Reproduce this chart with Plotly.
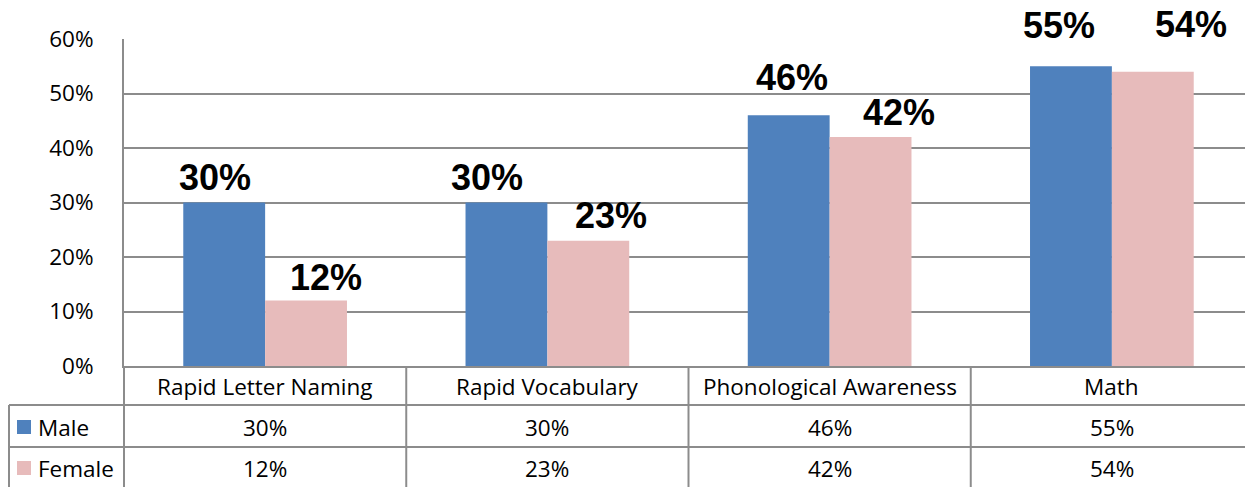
import plotly.graph_objects as go

categories = ["Rapid Letter Naming", "Rapid Vocabulary", "Phonological Awareness", "Math"]
male = [0.30, 0.30, 0.46, 0.55]
female = [0.12, 0.23, 0.42, 0.54]
series_names = ["Male", "Female"]
y_ticks = [0, 0.1, 0.2, 0.3, 0.4, 0.5, 0.6]

# label placement (style): horizontal offset from category centre, height above bar top (px)
male_lbl_dx = [-50, -60, -38, -53]
male_lbl_dy = [25, 25, 38, 41]
female_lbl_dx = [61, 64, 69, 79]
female_lbl_dy = [23, 25, 25, 47]

# page places the figure 8px from the top-left corner; size the figure to the visible area
OFF = 8
W, H = 1253 - OFF, 487 - OFF
BLUE = "#4F81BD"
PINK = "#E7BBBB"
GRID = "#8C8C8C"
TXT_FONT = "Open Sans"
TS = 22.5

def px(x):
    return (x - OFF) / W

def py(y):
    return 1 - (y - OFF) / H

xs = list(range(len(categories)))
fig = go.Figure()
for name, vals, col in [(series_names[0], male, BLUE), (series_names[1], female, PINK)]:
    fig.add_trace(go.Bar(
        x=xs, y=vals, name=name, marker=dict(color=col, line=dict(width=0)),
        showlegend=False, hoverinfo="name+y",
    ))

fig.update_layout(
    width=W, height=H, autosize=False,
    margin=dict(l=0, r=0, t=0, b=0, autoexpand=False),
    paper_bgcolor="white", plot_bgcolor="white",
    barmode="group", bargap=0.42, bargroupgap=0,
    xaxis=dict(domain=[px(124), 1], range=[-0.5, len(categories) - 0.5],
               showticklabels=False, showgrid=False, zeroline=False, automargin=False,
               showline=True, linecolor=GRID, linewidth=2, fixedrange=True),
    yaxis=dict(domain=[py(366), py(39)], range=[0, 0.6], tickvals=y_ticks,
               tickformat=".0%", showgrid=True, gridcolor=GRID, gridwidth=2,
               zeroline=False, showline=True, linecolor=GRID, linewidth=2,
               ticks="", ticklabelstandoff=24, automargin=False,
               tickfont=dict(family=TXT_FONT, size=TS, color="black")),
)

shapes = []
line = dict(color=GRID, width=2)
for yy in [405, 447]:
    shapes.append(dict(type="line", xref="paper", yref="paper", x0=px(9), x1=1,
                       y0=py(yy), y1=py(yy), line=line))
shapes.append(dict(type="line", xref="paper", yref="paper", x0=px(9), x1=px(9),
                   y0=py(405), y1=0, line=line))
shapes.append(dict(type="line", xref="paper", yref="paper", x0=px(124), x1=px(124),
                   y0=py(366), y1=0, line=line))
for i in range(1, len(categories)):
    shapes.append(dict(type="line", xref="x", yref="paper", x0=i - 0.5, x1=i - 0.5,
                       y0=py(366), y1=0, line=line))
shapes.append(dict(type="rect", xref="paper", yref="paper", x0=px(17), x1=px(31),
                   y0=py(434), y1=py(420), fillcolor=BLUE, line=dict(width=0)))
shapes.append(dict(type="rect", xref="paper", yref="paper", x0=px(17), x1=px(31),
                   y0=py(475), y1=py(461), fillcolor=PINK, line=dict(width=0)))
fig.update_layout(shapes=shapes)

tf = dict(family=TXT_FONT, size=TS, color="black")
lf = dict(family="Liberation Sans, Arial", size=36, color="black", weight="bold")
ann = []
for i, c in enumerate(categories):
    ann.append(dict(x=i, y=py(386), xref="x", yref="paper", text=c, showarrow=False,
                    font=tf, xanchor="center", yanchor="middle"))
    ann.append(dict(x=i, y=py(427), xref="x", yref="paper", text=f"{male[i]:.0%}",
                    showarrow=False, font=tf, xanchor="center", yanchor="middle"))
    ann.append(dict(x=i, y=py(468), xref="x", yref="paper", text=f"{female[i]:.0%}",
                    showarrow=False, font=tf, xanchor="center", yanchor="middle"))
    # bar value labels
    ann.append(dict(x=i, y=male[i], xref="x", yref="y", text=f"{male[i]:.0%}",
                    showarrow=False, font=lf, xanchor="center", yanchor="middle",
                    xshift=male_lbl_dx[i], yshift=male_lbl_dy[i]))
    ann.append(dict(x=i, y=female[i], xref="x", yref="y", text=f"{female[i]:.0%}",
                    showarrow=False, font=lf, xanchor="center", yanchor="middle",
                    xshift=female_lbl_dx[i], yshift=female_lbl_dy[i]))
ann.append(dict(x=px(36), y=py(427), xref="paper", yref="paper", text=series_names[0],
                showarrow=False, font=tf, xanchor="left", yanchor="middle"))
ann.append(dict(x=px(36), y=py(468), xref="paper", yref="paper", text=series_names[1],
                showarrow=False, font=tf, xanchor="left", yanchor="middle"))
fig.update_layout(annotations=ann)

fig.write_html("out.html")
